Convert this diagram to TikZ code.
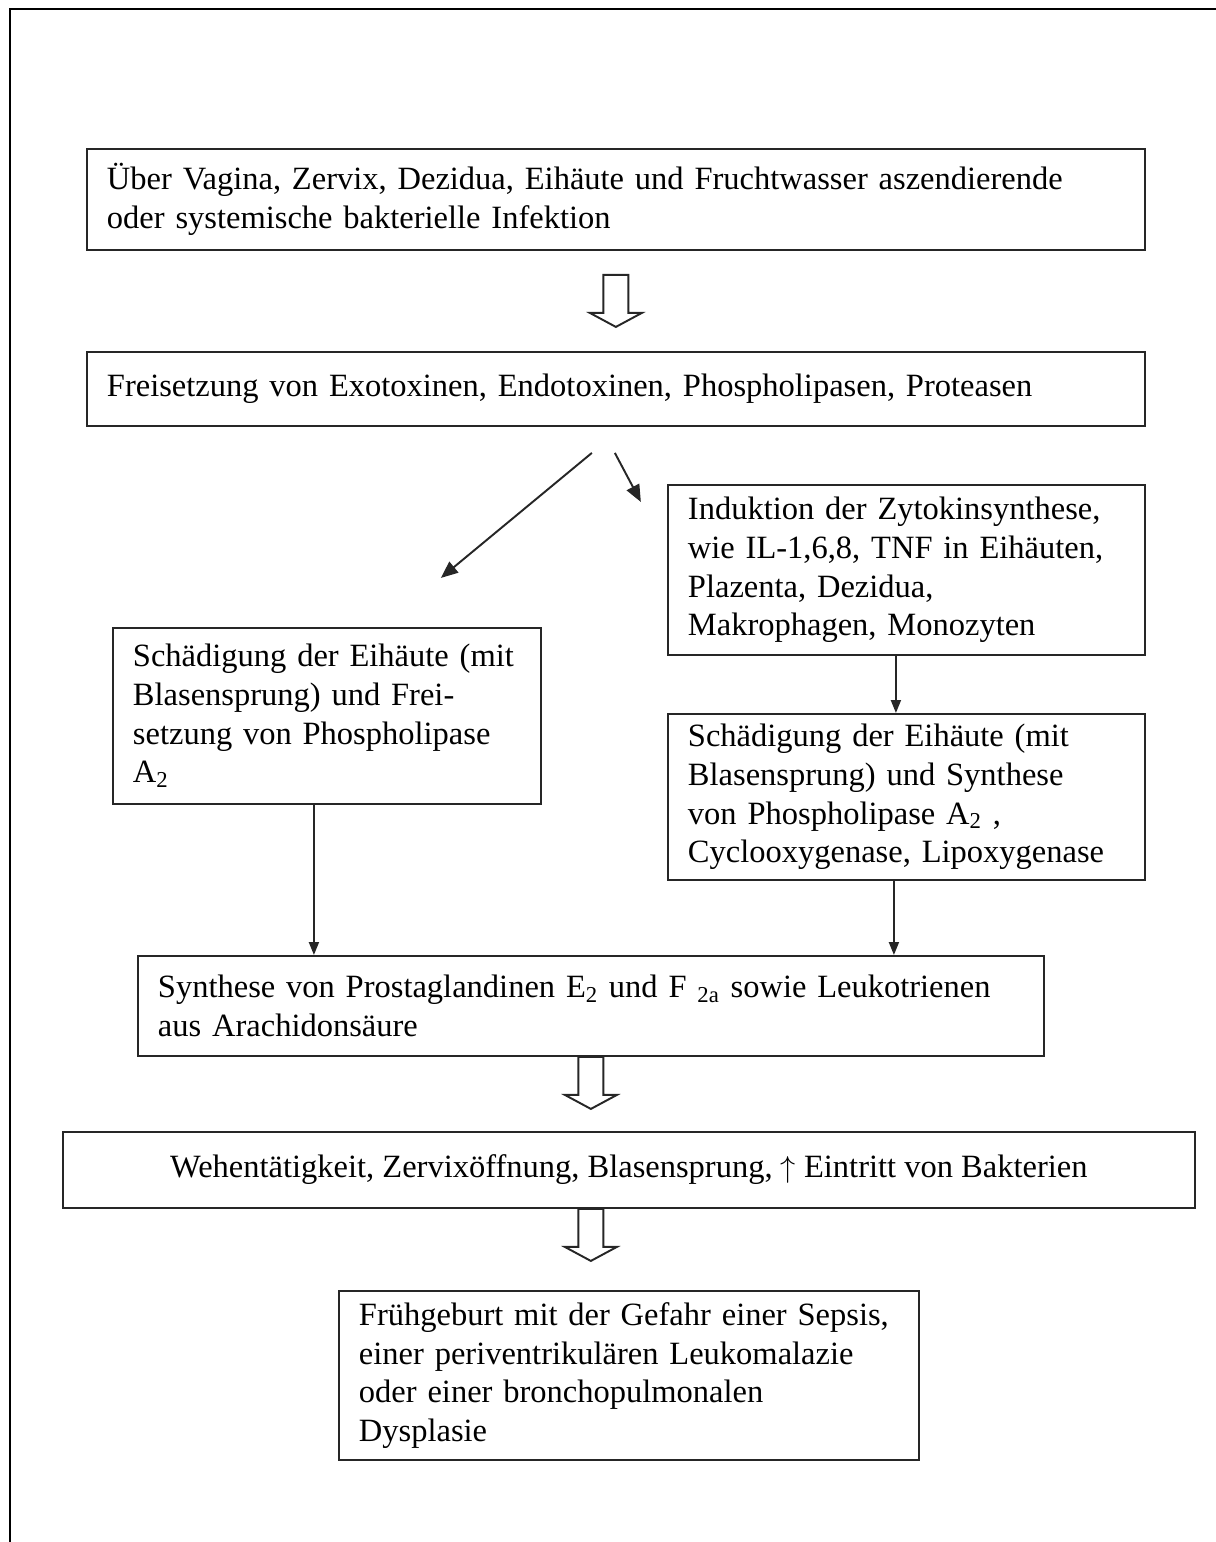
\documentclass[tikz,border=0pt]{standalone}
\usepackage{fontspec}
\setmainfont{Liberation Serif}
\usetikzlibrary{arrows.meta,calc}

\newcommand{\boxfont}{\fontsize{18.5}{22}\selectfont\hyphenpenalty=10000\relax}
\tikzset{
  box/.style={draw=black!85, line width=1.1pt, anchor=north west, align=left,
    inner xsep=0.4cm, inner ysep=0pt, font=\boxfont},
  thinarrow/.style={draw=black!85, line width=1.1pt, -{Triangle[length=0.34cm,width=0.28cm]}},
  shortarrow/.style={draw=black!85, line width=1.1pt, -{Triangle[length=0.26cm,width=0.2cm]}},
  hollowarrow/.pic={
    \draw[black!85, line width=1.1pt, line join=miter]
      (-12.5,0) -- (-12.5,38) -- (-26,38) -- (0,52) -- (26,38) -- (12.5,38) -- (12.5,0) -- cycle;
  }
}

\begin{document}
\begin{tikzpicture}[x=0.02cm,y=-0.02cm]
\useasboundingbox (0,0) rectangle (1216,1542);
\draw[line width=1.7pt] (10,1542) -- (10,9) -- (1216,9);

% boxes
\node[box, text width=20.36cm, minimum width=21.16cm, minimum height=2.02cm] (infekt) at (86,148)
  {Über Vagina, Zervix, Dezidua, Eihäute und Fruchtwasser aszendierende\\
   oder systemische bakterielle Infektion};
\node[box, text width=20.36cm, minimum width=21.16cm, minimum height=1.48cm] (toxine) at (86,351)
  {Freisetzung von Exotoxinen, Endotoxinen, Phospholipasen, Proteasen};
\node[box, text width=8.74cm, minimum width=9.54cm, minimum height=3.4cm] (zytokin) at (667,484)
  {Induktion der Zytokinsynthese,\\ wie IL-1,6,8, TNF in Eihäuten,\\ Plazenta, Dezidua,\\ Makrophagen, Monozyten};
\node[box, text width=7.76cm, minimum width=8.56cm, minimum height=3.52cm] (schaedL) at (112,627)
  {Schädigung der Eihäute (mit\\ Blasensprung) und Frei-\\ setzung von Phospholipase\\ A\textsubscript{2}};
\node[box, text width=8.74cm, minimum width=9.54cm, minimum height=3.32cm] (schaedR) at (667,713)
  {Schädigung der Eihäute (mit\\ Blasensprung) und Synthese\\ von Phospholipase A\textsubscript{2} ,\\ Cyclooxygenase, Lipoxygenase};
\node[box, text width=17.32cm, minimum width=18.12cm, minimum height=2.0cm] (prosta) at (137,955)
  {Synthese von Prostaglandinen E\textsubscript{2} und F \textsubscript{2a} sowie Leukotrienen\\ aus Arachidonsäure};
\node[box, align=center, minimum width=22.64cm, minimum height=1.52cm] (wehen) at (62,1131)
  {Wehentätigkeit, Zervixöffnung, Blasensprung, $\uparrow$ Eintritt von Bakterien};
\node[box, text width=10.8cm, minimum width=11.6cm, minimum height=3.38cm] (frueh) at (338,1290)
  {Frühgeburt mit der Gefahr einer Sepsis,\\ einer periventrikulären Leukomalazie\\ oder einer bronchopulmonalen\\ Dysplasie};

% block arrows
\coordinate (p1) at ($(infekt.south)+(0,24)$);
\pic at (p1) {hollowarrow};
\pic at ($(prosta.south)+(0,0)$) {hollowarrow};
\pic at ($(wehen.south)+(-38,0)$) {hollowarrow};

% thin arrows
\coordinate (s1) at ($(toxine.south)+(-24,26)$);
\coordinate (e1) at ($(toxine.south)+(-175,151)$);
\coordinate (s2) at ($(toxine.south)+(-1,26)$);
\coordinate (e2) at ($(toxine.south)+(25,75)$);
\draw[thinarrow] (s1) -- (e1);
\draw[thinarrow] (s2) -- (e2);
\coordinate (z1) at ($(zytokin.south)+(-10.5,0)$);
\draw[shortarrow] (z1) -- (z1 |- schaedR.north);
\coordinate (l1) at ($(schaedL.south)+(-13,0)$);
\draw[shortarrow] (l1) -- (l1 |- prosta.north);
\coordinate (r1) at ($(schaedR.south)+(-12.5,0)$);
\draw[shortarrow] (r1) -- (r1 |- prosta.north);
\end{tikzpicture}
\end{document}
